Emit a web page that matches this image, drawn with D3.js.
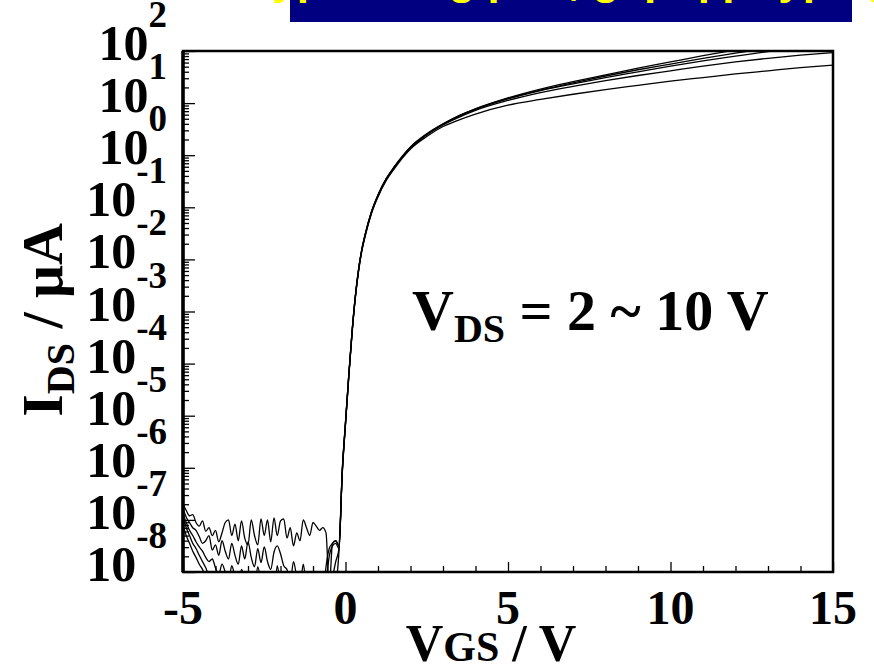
<!DOCTYPE html>
<html lang="en">
<head>
    <meta charset="UTF-8">
    <title>IDS - VGS transfer curve</title>
    <script type="application/javascript" src="https://cdnjs.cloudflare.com/ajax/libs/d3/7.8.5/d3.min.js"></script>
    <style type="text/css">
        body {
            margin: 0;
            background: #fff;
        }

        .serif {
            font-family: "Liberation Serif", "Times New Roman", serif;
            font-weight: bold;
            fill: #000;
        }

        .curve {
            fill: none;
            stroke: #000;
            stroke-width: 1.3;
        }

        .axis path {
            display: none;
        }

        .axis line {
            stroke: #000;
            stroke-width: 1.3;
        }
    </style>
</head>
<body>
<svg width="874" height="667"></svg>
<script type="application/javascript">
    // gate voltage grid of the off-state (noise) part, V
    var VGS_OFF = [-5.0, -4.9, -4.8, -4.7, -4.6, -4.5, -4.4, -4.3, -4.2, -4.1,
        -4.0, -3.9, -3.8, -3.7, -3.6, -3.5, -3.4, -3.3, -3.2, -3.1,
        -3.0, -2.9, -2.8, -2.7, -2.6, -2.5, -2.4, -2.3, -2.2, -2.1,
        -2.0, -1.9, -1.8, -1.7, -1.6, -1.5, -1.4, -1.3, -1.2, -1.1,
        -1.0, -0.9, -0.8, -0.7, -0.6, -0.5, -0.4, -0.3];
    // gate voltage grid of the turn-on part, V
    var VGS_ON = [-0.2, -0.1, 0, 0.1, 0.2, 0.3, 0.4, 0.5, 0.6, 0.8, 1.0, 1.25, 1.5,
        2.0, 2.5, 3.0, 3.5, 4, 5, 6, 7, 8, 9, 10, 11, 12, 13, 14, 15];

    var VDS_LIST = [2, 4, 6, 8, 10];

    // log10(IDS / uA)
    var offVds2 = [-7.10, -7.30, -7.45, -7.60, -7.72, -7.85, -7.95, -8.10, -8.00, -8.25,
        -8.40, -8.15, -8.50, -8.30, -8.60, -8.75, -8.50, -8.80, -8.60, -8.90,
        -8.70, -9.00, -8.80, -9.00, -8.85, -9.05, -8.90, -9.10, -8.95, -9.10,
        -8.90, -9.15, -9.00, -9.20, -8.95, -9.10, -9.00, -9.20, -9.05, -9.25,
        -9.10, -9.30, -9.10, -9.25, -9.10, -9.00, -8.70, -8.30];
    var offVds4 = [-6.95, -7.15, -7.30, -7.45, -7.55, -7.68, -7.80, -7.92, -8.05, -8.00,
        -8.20, -8.35, -8.10, -8.40, -8.55, -8.30, -8.50, -8.20, -8.60, -8.40,
        -8.70, -8.45, -8.25, -8.60, -8.40, -8.70, -8.50, -8.80, -8.40, -8.65,
        -8.90, -8.50, -8.75, -8.45, -8.80, -8.60, -8.90, -8.70, -8.95, -8.55,
        -8.80, -8.60, -8.90, -8.70, -8.95, -8.40, -8.10, -7.80];
    var offVds6 = [-6.88, -7.05, -7.20, -7.30, -7.42, -7.52, -7.60, -7.72, -7.80, -7.75,
        -7.92, -8.05, -7.85, -8.00, -8.20, -7.88, -8.10, -8.30, -7.95, -8.15,
        -8.40, -8.05, -8.30, -7.90, -8.20, -8.45, -8.10, -8.35, -8.50, -7.88,
        -8.30, -8.55, -8.20, -8.45, -8.60, -8.30, -8.50, -8.10, -8.40, -8.60,
        -8.35, -8.55, -8.40, -8.60, -8.20, -7.70, -7.50, -7.45];
    var offVds8 = [-6.78, -6.95, -7.05, -7.15, -7.20, -7.32, -7.45, -7.40, -7.30, -7.58,
        -7.48, -7.68, -7.40, -7.60, -7.75, -7.45, -7.68, -7.85, -7.50, -7.75,
        -7.42, -7.72, -7.90, -7.55, -7.82, -7.52, -7.80, -7.95, -7.62, -7.50,
        -7.65, -7.88, -7.95, -8.20, -7.80, -8.10, -8.30, -7.85, -8.25, -8.05,
        -8.40, -8.10, -8.35, -8.50, -7.90, -7.55, -7.45, -7.40];
    var offVds10 = [-6.70, -6.82, -6.92, -6.90, -7.05, -7.12, -7.02, -7.22, -7.15, -7.30,
        -7.20, -7.42, -7.25, -7.05, -7.00, -7.30, -7.08, -7.40, -7.02, -7.35,
        -7.48, -7.00, -7.30, -7.48, -6.98, -7.30, -7.00, -7.42, -6.96, -7.30,
        -7.02, -6.98, -7.35, -7.15, -7.50, -7.25, -7.40, -7.00, -7.15, -7.30,
        -7.05, -7.12, -7.20, -7.15, -7.25, -8.30, -7.45, -7.40];

    var onVds2 = [-7.60, -6.12, -5.17, -4.27, -3.44, -2.76, -2.24, -1.85, -1.57, -1.12, -0.80, -0.49, -0.26,
        0.12, 0.36, 0.55, 0.68, 0.79, 0.96, 1.07, 1.17, 1.26, 1.34, 1.42, 1.49, 1.56, 1.62, 1.68, 1.73];
    var onVds4 = [-7.55, -6.10, -5.15, -4.25, -3.42, -2.74, -2.22, -1.83, -1.55, -1.10, -0.78, -0.47, -0.24,
        0.14, 0.39, 0.58, 0.73, 0.86, 1.05, 1.20, 1.32, 1.43, 1.53, 1.62, 1.71, 1.79, 1.86, 1.92, 1.97];
    var onVds6 = [-7.55, -6.08, -5.14, -4.24, -3.41, -2.73, -2.21, -1.82, -1.54, -1.09, -0.77, -0.46, -0.23,
        0.15, 0.40, 0.59, 0.75, 0.88, 1.08, 1.24, 1.37, 1.49, 1.60, 1.71, 1.81, 1.90, 1.99, 2.07, 2.14];
    var onVds8 = [-7.50, -6.06, -5.13, -4.23, -3.40, -2.72, -2.20, -1.82, -1.54, -1.09, -0.77, -0.46, -0.23,
        0.15, 0.40, 0.60, 0.76, 0.89, 1.09, 1.25, 1.39, 1.52, 1.64, 1.75, 1.86, 1.96, 2.05, 2.13, 2.20];
    var onVds10 = [-7.50, -6.05, -5.12, -4.22, -3.40, -2.72, -2.20, -1.81, -1.53, -1.08, -0.76, -0.45, -0.22,
        0.16, 0.41, 0.60, 0.76, 0.89, 1.10, 1.27, 1.41, 1.54, 1.67, 1.79, 1.91, 2.02, 2.12, 2.21, 2.30];

    var OFF_SERIES = [offVds2, offVds4, offVds6, offVds8, offVds10];
    var ON_SERIES = [onVds2, onVds4, onVds6, onVds8, onVds10];

    var X_TICKS = [-5, 0, 5, 10, 15];
    var X_MINOR = [-4, -3, -2, -1, 1, 2, 3, 4, 6, 7, 8, 9, 11, 12, 13, 14];
    var Y_EXPONENTS = [2, 1, 0, -1, -2, -3, -4, -5, -6, -7, -8];

    var svg = d3.select("svg");
    var margin = {top: 51, right: 41, bottom: 95, left: 183};
    var width = +svg.attr("width") - margin.left - margin.right;
    var height = +svg.attr("height") - margin.top - margin.bottom;

    var x = d3.scaleLinear()
            .domain([-5, 15])
            .range([0, width]);

    var y = d3.scaleLog()
            .domain([1e-8, 1e2])
            .range([height, 0]);

    // banner at the top, its text mostly cut off by the page edge
    svg.append("rect")
            .attr("x", 290)
            .attr("y", 0)
            .attr("width", 562)
            .attr("height", 22)
            .attr("fill", "#000080");

    svg.append("text")
            .attr("x", 571)
            .attr("y", -6)
            .attr("text-anchor", "middle")
            .attr("font-family", "Liberation Sans, Arial, sans-serif")
            .attr("font-weight", "bold")
            .attr("font-size", 44)
            .attr("fill", "#ffff00")
            .text("Typical log plot, gap q p-type g");

    var g = svg.append("g")
            .attr("transform", "translate(" + margin.left + "," + margin.top + ")");

    g.append("clipPath")
            .attr("id", "plot-clip")
            .append("rect")
            .attr("width", width)
            .attr("height", height);

    // build the points of one curve: noise part + turn-on part
    function makeCurve(i) {
        var pts = [];
        var j;
        for (j = 0; j < VGS_OFF.length; j++) {
            pts.push({v: VGS_OFF[j], i: Math.pow(10, OFF_SERIES[i][j])});
        }
        for (j = 0; j < VGS_ON.length; j++) {
            pts.push({v: VGS_ON[j], i: Math.pow(10, ON_SERIES[i][j])});
        }
        return pts;
    }

    var line = d3.line()
            .x(function(d) { return x(d.v); })
            .y(function(d) { return y(d.i); })
            .curve(d3.curveMonotoneX);

    g.append("g")
            .attr("clip-path", "url(#plot-clip)")
            .selectAll("path")
            .data(VDS_LIST)
            .enter().append("path")
            .attr("class", "curve")
            .attr("d", function(d, i) { return line(makeCurve(i)); });

    // y ticks, drawn inward
    var yMajor = Y_EXPONENTS.map(function(e) { return Math.pow(10, e); });
    var yMinor = [];
    Y_EXPONENTS.slice(1).forEach(function(e) {
        [2, 3, 4, 5, 6, 7, 8, 9].forEach(function(m) { yMinor.push(m * Math.pow(10, e)); });
    });

    g.append("g")
            .attr("class", "axis")
            .call(d3.axisRight(y).tickValues(yMinor).tickSize(6).tickFormat(""));
    g.append("g")
            .attr("class", "axis")
            .call(d3.axisRight(y).tickValues(yMajor).tickSize(12).tickFormat(""));

    // x ticks, drawn inward
    g.append("g")
            .attr("class", "axis")
            .attr("transform", "translate(0," + height + ")")
            .call(d3.axisTop(x).tickValues(X_MINOR).tickSize(6).tickFormat(""));
    g.append("g")
            .attr("class", "axis")
            .attr("transform", "translate(0," + height + ")")
            .call(d3.axisTop(x).tickValues(X_TICKS).tickSize(10).tickFormat(""));

    // frame
    g.append("rect")
            .attr("width", width)
            .attr("height", height)
            .attr("fill", "none")
            .attr("stroke", "#000")
            .attr("stroke-width", 2.5);
    g.append("line")
            .attr("x1", 0).attr("x2", 0)
            .attr("y1", 0).attr("y2", height)
            .attr("stroke", "#000")
            .attr("stroke-width", 3.5);

    // y tick labels: 10 with a raised exponent
    var yLab = g.append("g")
            .selectAll("text")
            .data(Y_EXPONENTS)
            .enter().append("text")
            .attr("class", "serif")
            .attr("x", -16)
            .attr("y", function(d) { return y(Math.pow(10, d)) + 9; })
            .attr("text-anchor", "end")
            .attr("font-size", 50);
    yLab.append("tspan").text("10");
    yLab.append("tspan")
            .attr("font-size", 37)
            .attr("dy", -33)
            .text(function(d) { return d; });

    // x tick labels
    g.append("g")
            .selectAll("text")
            .data(X_TICKS)
            .enter().append("text")
            .attr("class", "serif")
            .attr("x", function(d) { return x(d); })
            .attr("y", height + 52)
            .attr("text-anchor", "middle")
            .attr("font-size", 48)
            .text(function(d) { return d; });

    // x axis title
    var xTitle = svg.append("text")
            .attr("class", "serif")
            .attr("x", 491)
            .attr("y", 661)
            .attr("text-anchor", "middle")
            .attr("font-size", 52);
    xTitle.append("tspan").text("V");
    xTitle.append("tspan").attr("font-size", 42).text("GS");
    xTitle.append("tspan").text(" / V");

    // y axis title
    var yTitle = svg.append("text")
            .attr("class", "serif")
            .attr("transform", "translate(62,320) rotate(-90)")
            .attr("text-anchor", "middle")
            .attr("font-size", 58);
    yTitle.append("tspan").text("I");
    yTitle.append("tspan").attr("font-size", 40).attr("dy", 12).text("DS");
    yTitle.append("tspan").attr("dy", -12).text(" / \u03bcA");

    // annotation
    var note = svg.append("text")
            .attr("class", "serif")
            .attr("x", 412)
            .attr("y", 330)
            .attr("font-size", 58);
    note.append("tspan").text("V");
    note.append("tspan").attr("font-size", 40).attr("dy", 12).text("DS");
    note.append("tspan").attr("dy", -12).text(" = 2 ~ 10 V");
</script>
</body>
</html>
